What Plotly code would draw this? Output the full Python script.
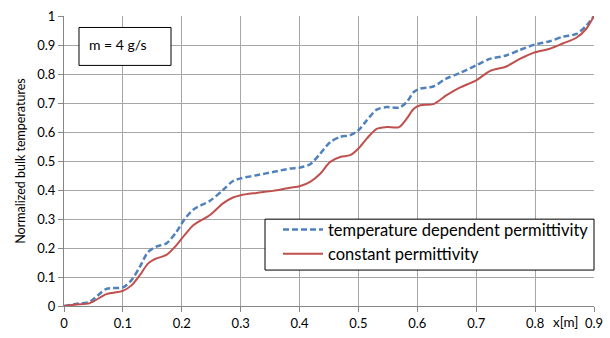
import plotly.graph_objects as go

x_pos = [0, 0.02, 0.044, 0.072, 0.1, 0.115, 0.129, 0.143, 0.157, 0.174, 0.191, 0.205,
         0.22, 0.248, 0.27, 0.287, 0.3, 0.327, 0.355, 0.384, 0.4, 0.418, 0.435, 0.452,
         0.469, 0.486, 0.5, 0.514, 0.531, 0.548, 0.569, 0.582, 0.594, 0.605, 0.627,
         0.649, 0.672, 0.7, 0.723, 0.751, 0.774, 0.8, 0.825, 0.848, 0.87, 0.887, 0.9]

temp_dependent = [0, 0.007, 0.015, 0.059, 0.064, 0.09, 0.136, 0.187, 0.205, 0.216, 0.256, 0.30,
                  0.333, 0.363, 0.40, 0.431, 0.44, 0.451, 0.462, 0.474, 0.477, 0.489, 0.525, 0.565,
                  0.583, 0.589, 0.606, 0.64, 0.677, 0.686, 0.684, 0.703, 0.738, 0.75, 0.757,
                  0.784, 0.803, 0.83, 0.852, 0.864, 0.883, 0.902, 0.913, 0.929, 0.938, 0.967, 1.0]

constant = [0, 0.005, 0.01, 0.041, 0.052, 0.072, 0.107, 0.147, 0.164, 0.176, 0.21, 0.245,
            0.279, 0.314, 0.354, 0.374, 0.382, 0.39, 0.397, 0.408, 0.413, 0.428, 0.456, 0.497,
            0.514, 0.52, 0.543, 0.577, 0.611, 0.617, 0.617, 0.646, 0.68, 0.692, 0.696,
            0.726, 0.753, 0.778, 0.81, 0.826, 0.852, 0.875, 0.887, 0.906, 0.925, 0.956, 1.0]

x_ticks = [0, 0.1, 0.2, 0.3, 0.4, 0.5, 0.6, 0.7, 0.8, 0.9]
x_ticktext = ["0", "0.1", "0.2", "0.3", "0.4", "0.5", "0.6", "0.7", "0.8", "0.9"]
y_ticks = [0, 0.1, 0.2, 0.3, 0.4, 0.5, 0.6, 0.7, 0.8, 0.9, 1.0]
y_ticktext = ["0", "0.1", "0.2", "0.3", "0.4", "0.5", "0.6", "0.7", "0.8", "0.9", "1"]

FONT = "Lato, 'Open Sans', sans-serif"

fig = go.Figure()
fig.add_trace(go.Scatter(
    x=x_pos, y=temp_dependent, mode="lines", name="temperature dependent permittivity",
    line=dict(color="#4F81BD", width=2.5, dash="6px,3px", shape="spline", smoothing=0.8)))
fig.add_trace(go.Scatter(
    x=x_pos, y=constant, mode="lines", name="constant permittivity",
    line=dict(color="#C0504D", width=2, shape="spline", smoothing=0.8)))

fig.update_layout(
    width=610, height=338,
    margin=dict(l=64, r=16, t=15.5, b=32, autoexpand=False),
    paper_bgcolor="white", plot_bgcolor="white",
    font=dict(family=FONT, size=13, color="#000000"),
    showlegend=True,
    legend=dict(x=1, xanchor="right", y=(306 - 212) / 290.5, yanchor="top",
                bgcolor="rgba(0,0,0,0)", borderwidth=0,
                font=dict(family=FONT, size=16.5, color="#000000"),
                tracegroupgap=0, itemwidth=40),
    xaxis=dict(range=[0, 0.9], tickvals=x_ticks, ticktext=x_ticktext, automargin=False,
               showgrid=True, gridcolor="#A6A6A6", gridwidth=1,
               showline=True, linecolor="#868686", linewidth=1,
               ticks="outside", ticklen=5, tickcolor="#868686",
               zeroline=False, tickfont=dict(size=13)),
    yaxis=dict(range=[0, 1.0], tickvals=y_ticks, ticktext=y_ticktext, automargin=False,
               showgrid=True, gridcolor="#A6A6A6", gridwidth=1,
               showline=True, linecolor="#868686", linewidth=1,
               ticks="outside", ticklen=5, tickcolor="#868686",
               zeroline=False, tickfont=dict(size=13),
               title=dict(text="Normalized bulk temperatures", font=dict(size=12.5), standoff=8)),
)

# legend frame
fig.add_shape(type="rect", xref="paper", yref="paper",
              x0=(265 - 64) / 530, x1=1.0, y0=(306 - 270) / 290.5, y1=(306 - 219) / 290.5,
              line=dict(color="black", width=1), fillcolor="white", layer="above")

fig.add_shape(type="rect", xref="paper", yref="paper",
              x0=0.0283, x1=0.2019, y0=0.8296, y1=0.9604,
              line=dict(color="black", width=1), fillcolor="white", layer="above")
fig.add_annotation(xref="paper", yref="paper", x=(87 - 64) / 530, y=0.902, xanchor="left", yanchor="middle",
                   text="m = 4 g/s", showarrow=False, font=dict(family=FONT, size=14, color="black"))
fig.add_annotation(xref="paper", yref="paper", x=(551 - 64) / 530, y=-0.022, xanchor="left", yanchor="top",
                   text="x[m]", showarrow=False, font=dict(family=FONT, size=13.5, color="black"))

fig.write_html("out.html")
